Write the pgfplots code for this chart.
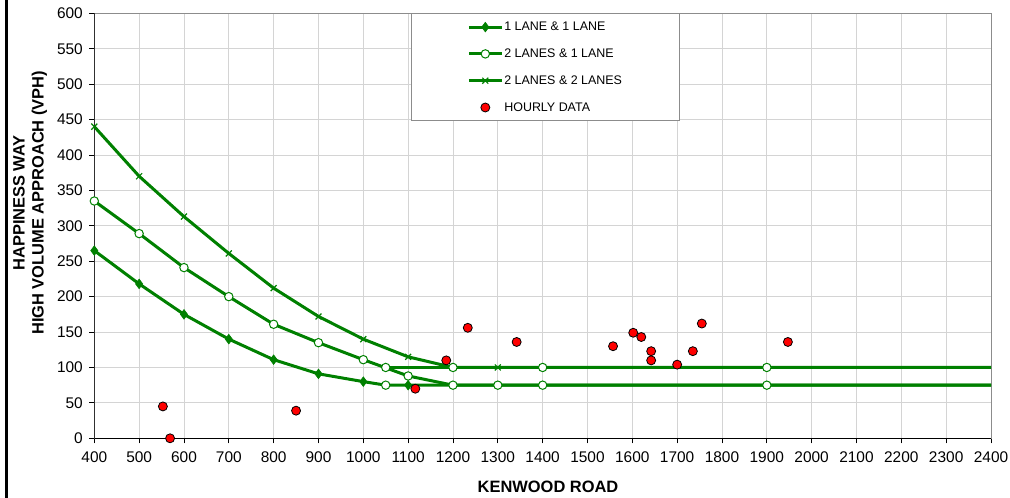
\documentclass[border=0pt]{standalone}
\usepackage{fontspec}
\setmainfont{Liberation Sans}
\usepackage{pgfplots}
\pgfplotsset{compat=1.18}
\definecolor{lgreen}{RGB}{0,128,0}
\definecolor{gridgray}{RGB}{212,212,212}
\definecolor{framegray}{RGB}{140,140,140}
\begin{document}
\begin{tikzpicture}
\path[use as bounding box] (0,0) rectangle (1010bp,498bp);
\draw[black, line width=2.5bp] (6.7bp,0) -- (6.7bp,498bp);
\begin{axis}[
  at={(94.3bp,59.7bp)}, anchor=south west,
  scale only axis, width=896.7bp, height=425bp,
  xmin=400, xmax=2400, ymin=0, ymax=600,
  xtick={400,500,...,2400}, ytick={0,50,...,600},
  grid=major, grid style={gridgray, line width=0.8bp},
  axis line style={framegray, line width=0.8bp},
  tick style={black, line width=0.8bp},
  tick align=outside, major tick length=5bp, tickpos=left,
  /pgf/number format/assume math mode=true,
  /pgf/number format/1000 sep={},
  ticklabel style={font=\fontsize{15.5}{18}\selectfont},
  yticklabel style={xshift=-3bp},
  xticklabel style={yshift=-5bp},
  xlabel={KENWOOD ROAD},
  xlabel style={font=\bfseries\fontsize{16.5}{19}\selectfont, at={(axis description cs:0.506,-0.114)}, anchor=center},
  ylabel={HAPPINESS WAY\\HIGH VOLUME APPROACH (VPH)},
  ylabel style={font=\bfseries\fontsize{16.5}{19}\selectfont, align=center, at={(axis description cs:-0.0717,0.554)}, anchor=center, rotate=0},
  legend image code/.code={\draw[#1, mark indices={2}] plot coordinates {(0bp,0bp) (16.5bp,0bp) (33bp,0bp)};},
  legend style={at={(0.3531,1)}, anchor=north west, draw=framegray, line width=0.8bp, fill=white,
    font=\fontsize{12.5}{15}\selectfont, inner xsep=56bp, inner ysep=0bp, row sep=0bp, column sep=0bp,
    nodes={inner xsep=1bp, inner ysep=0bp, minimum height=26.8bp}},
  legend cell align=left,
]
\draw[black, line width=1bp] (rel axis cs:0,1) -- (rel axis cs:0,0) -- (rel axis cs:1,0);
% 1 LANE & 1 LANE
\addplot[lgreen, line width=3bp, mark=diamond*, mark size=4.8bp,
  mark options={solid, line width=0.6bp, fill=lgreen, draw=lgreen},
  mark indices={1,2,3,4,5,6,7,9}]
  coordinates {(400,265) (500,218) (600,175) (700,140) (800,111) (900,91) (1000,80) (1050,75) (1100,75) (2400,75)};
\addlegendentry{1 LANE \& 1 LANE}
% 2 LANES & 1 LANE
\addplot[lgreen, line width=3bp, mark=*, mark size=4.2bp,
  mark options={solid, line width=1bp, fill=white, draw=lgreen},
  mark indices={1,2,3,4,5,6,7,8,9,10,11,12}]
  coordinates {(400,335) (500,289) (600,241) (700,200) (800,161) (900,135) (1000,111) (1100,88) (1200,75) (1300,75) (1400,75) (1900,75) (2400,75)};
\addlegendentry{2 LANES \& 1 LANE}
% 2 LANES & 2 LANES
\addplot[lgreen, line width=3bp, mark=x, mark size=4.2bp,
  mark options={solid, line width=1.2bp, draw=lgreen},
  mark indices={1,2,3,4,5,6,7,8,9,10,11,12}]
  coordinates {(400,440) (500,370) (600,313) (700,261) (800,212) (900,172) (1000,140) (1100,115) (1200,100) (1300,100) (1400,100) (1900,100) (2400,100)};
\addlegendentry{2 LANES \& 2 LANES}
% extra flat segment at 100
\addplot[lgreen, line width=3bp, mark=*, mark size=4.2bp, forget plot,
  mark options={solid, line width=1bp, fill=white, draw=lgreen},
  mark indices={1,2,3,4}]
  coordinates {(1050,100) (1200,100) (1400,100) (1900,100) (2400,100)};
\addplot[only marks, mark=*, mark size=4.2bp, forget plot,
  mark options={solid, line width=1bp, fill=white, draw=lgreen}]
  coordinates {(1050,75)};
% hourly data
\addplot[only marks, mark=*, mark size=4.5bp,
  mark options={solid, line width=0.8bp, fill=red, draw=black}]
  coordinates {(553,45) (569,0) (850,39) (1116,70) (1185,110) (1233,156) (1342,136) (1557,130) (1602,149) (1620,143) (1642,123) (1642,110) (1700,104) (1735,123) (1755,162) (1947,136)};
\addlegendentry{HOURLY DATA}
\end{axis}
\end{tikzpicture}
\end{document}
